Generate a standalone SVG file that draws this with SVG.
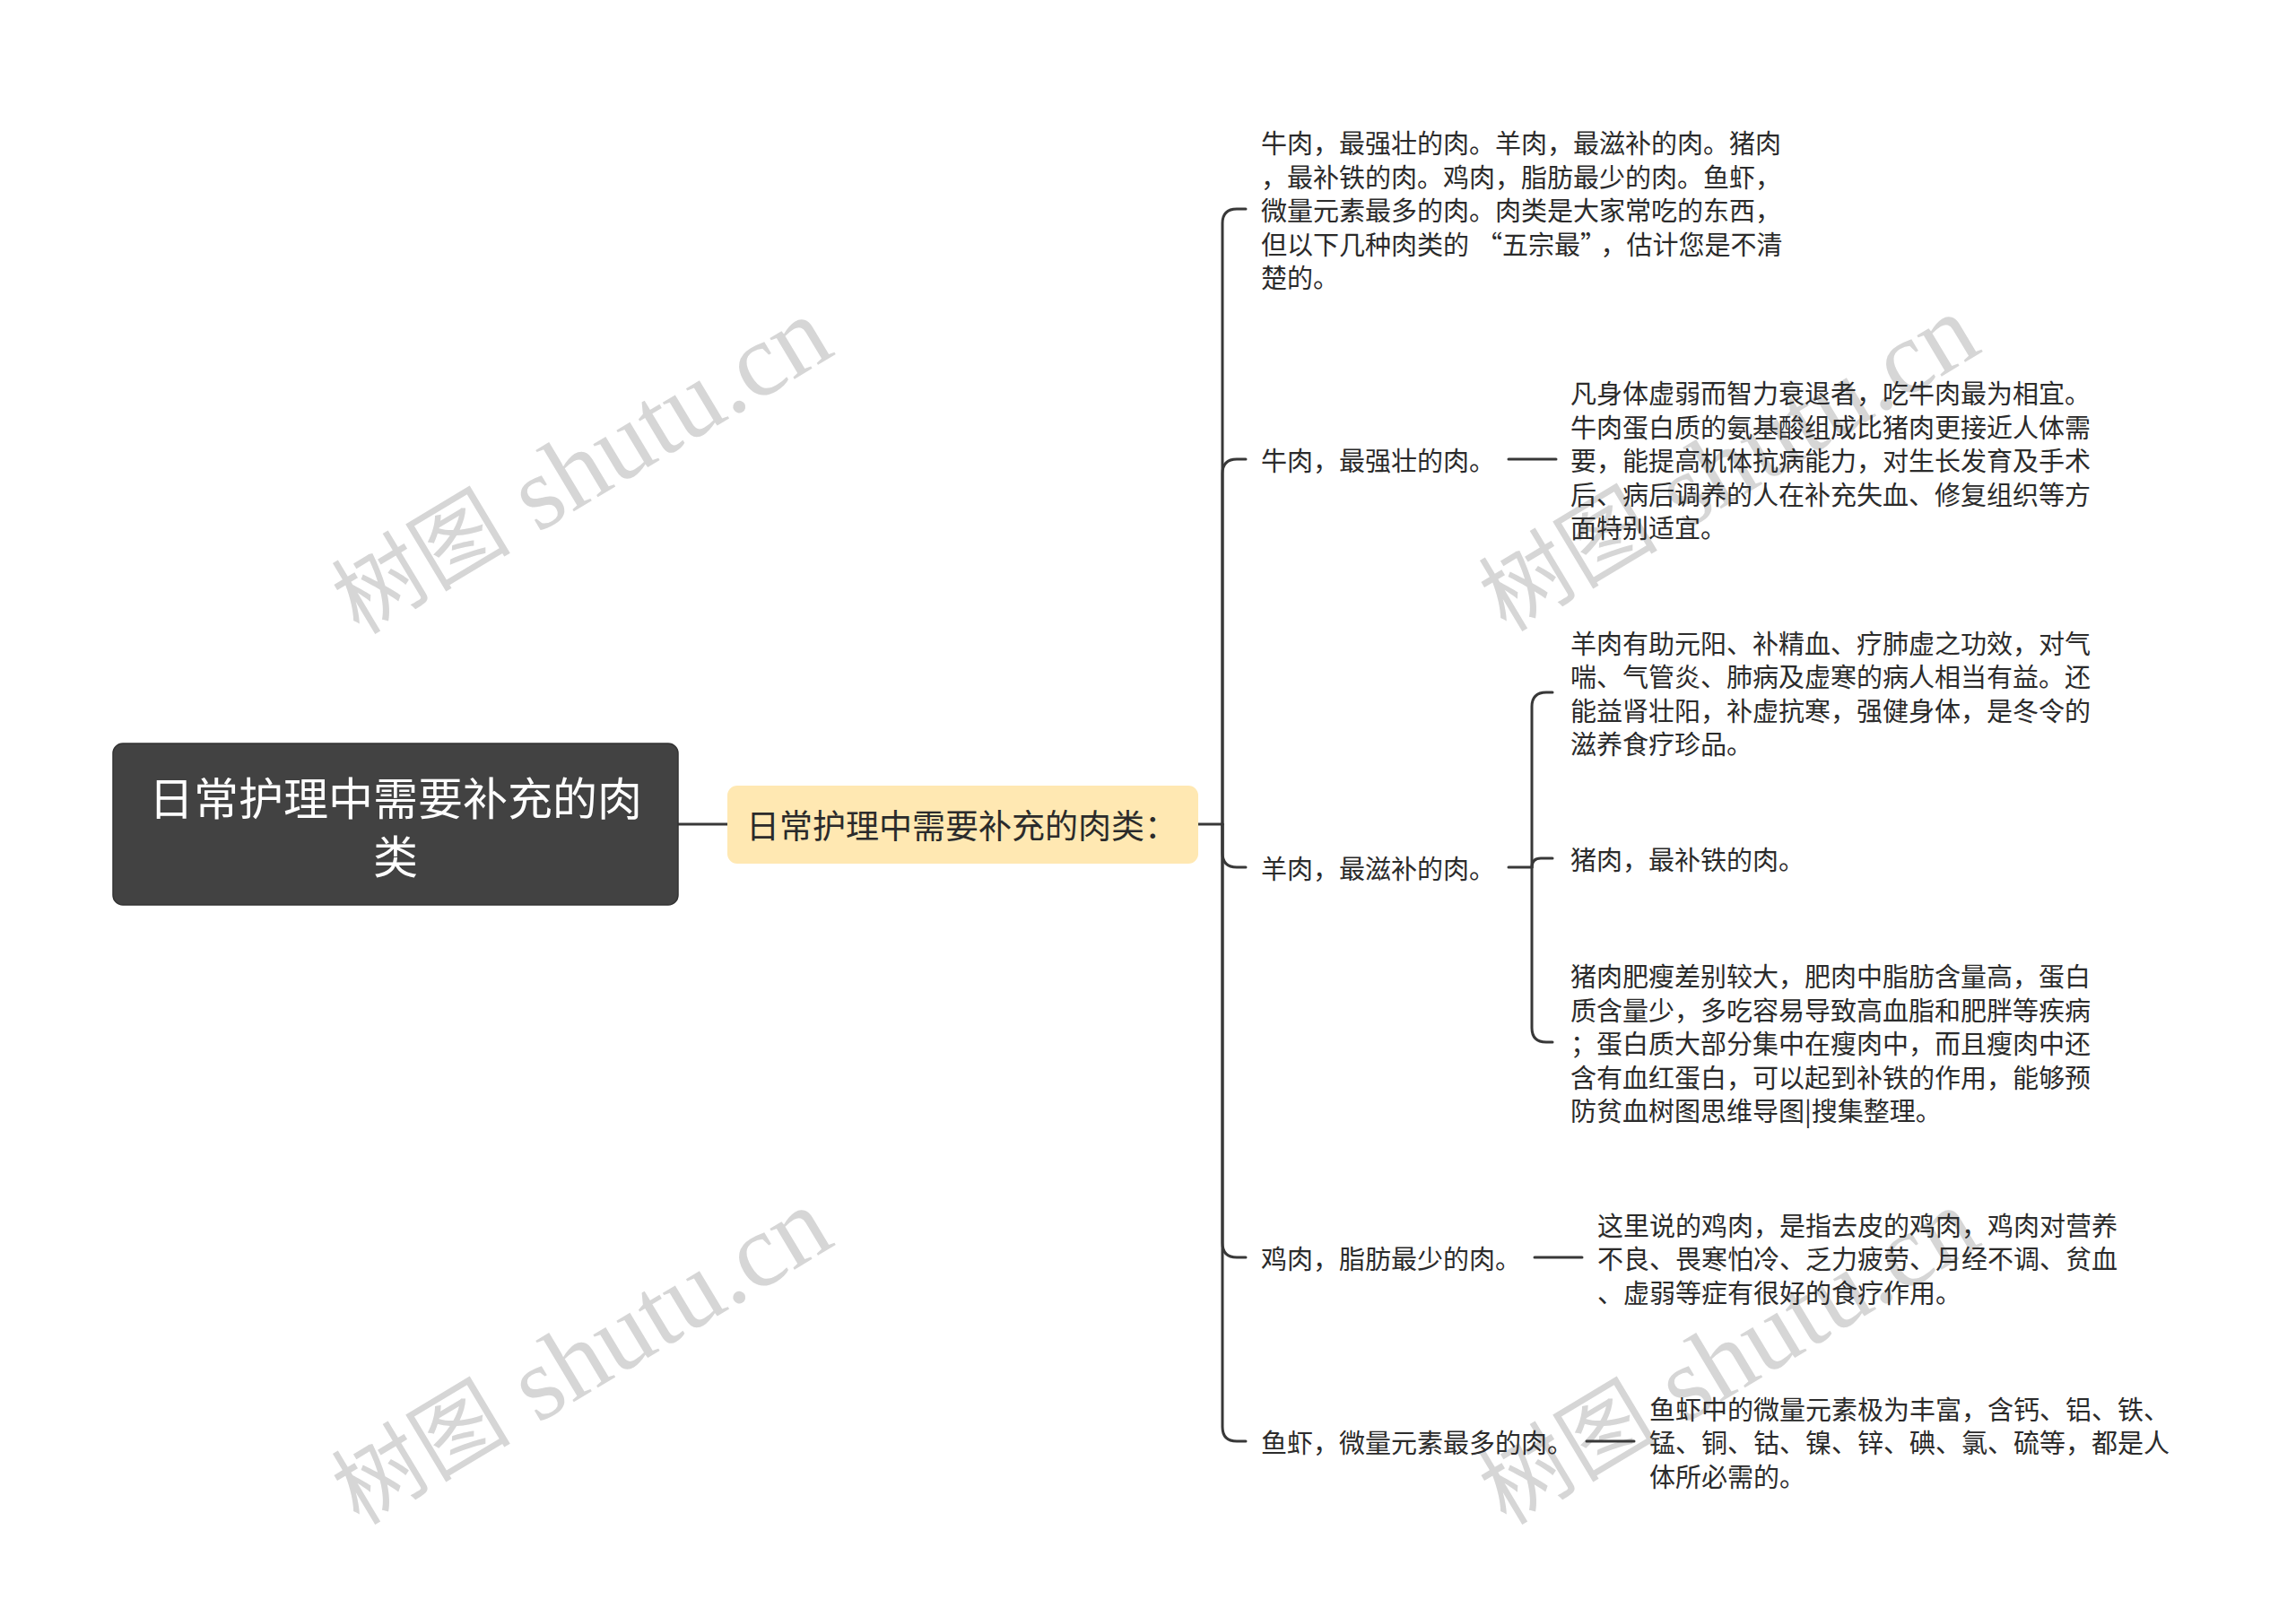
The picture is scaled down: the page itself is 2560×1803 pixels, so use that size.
<svg xmlns="http://www.w3.org/2000/svg" width="2560" height="1803" viewBox="0 0 2560 1803">
<style>
.wm{font-family:"Liberation Serif","Noto Sans CJK SC",serif;font-size:116px;fill:#d6d6d6;text-anchor:middle;dominant-baseline:central}
.wm .cj{font-size:100px}
.t{font-family:"Noto Sans CJK SC","Noto Sans",sans-serif;font-size:29px;fill:#2b2b2b;dominant-baseline:central}
.root{font-family:"Noto Sans CJK SC","Noto Sans",sans-serif;font-size:50px;fill:#ffffff;text-anchor:middle;dominant-baseline:central}
.sub{font-family:"Noto Sans CJK SC","Noto Sans",sans-serif;font-size:37px;fill:#2b2b2b;dominant-baseline:central}
.c{fill:none;stroke:#383838;stroke-width:3;stroke-linecap:round}
</style>
<rect width="2560" height="1803" fill="#ffffff"/>
<g id="watermarks">
<text class="wm" transform="translate(648,520) rotate(-31)"><tspan class="cj">树图</tspan> shutu.cn</text>
<text class="wm" transform="translate(1927,517) rotate(-31)"><tspan class="cj">树图</tspan> shutu.cn</text>
<text class="wm" transform="translate(648,1513) rotate(-31)"><tspan class="cj">树图</tspan> shutu.cn</text>
<text class="wm" transform="translate(1927,1513) rotate(-31)"><tspan class="cj">树图</tspan> shutu.cn</text>
</g>
<g id="connectors">
<path class="c" d="M756,919 H811"/>
<path class="c" d="M1336,919 H1363"/>
<path class="c" d="M1363,919 V249 Q1363,233 1379,233 H1389"/>
<path class="c" d="M1363,919 V528 Q1363,512 1379,512 H1389"/>
<path class="c" d="M1363,919 V951 Q1363,967 1379,967 H1389"/>
<path class="c" d="M1363,919 V1386 Q1363,1402 1379,1402 H1389"/>
<path class="c" d="M1363,919 V1591 Q1363,1607 1379,1607 H1389"/>
<path class="c" d="M1682,512 H1735"/>
<path class="c" d="M1682,967 H1708"/>
<path class="c" d="M1708,967 V788 Q1708,772 1724,772 H1731"/>
<path class="c" d="M1708,967 Q1708,957 1718,957 H1731"/>
<path class="c" d="M1708,967 V1146 Q1708,1162 1724,1162 H1731"/>
<path class="c" d="M1711,1402 H1764"/>
<path class="c" d="M1769,1607 H1822"/>
</g>
<g id="root">
<rect x="126" y="829" width="630" height="180" rx="11" fill="#424242" stroke="#333333" stroke-width="1.5"/>
<text class="root" x="441" y="887">日常护理中需要补充的肉</text>
<text class="root" x="441" y="952">类</text>
</g>
<g id="sub">
<rect x="811" y="876" width="525" height="87" rx="11" fill="#ffe8b2"/>
<text class="sub" x="832" y="919">日常护理中需要补充的肉类：</text>
</g>
<g id="intro">
<text class="t" x="1406" y="158">牛肉，最强壮的肉。羊肉，最滋补的肉。猪肉</text>
<text class="t" x="1406" y="195.5">，最补铁的肉。鸡肉，脂肪最少的肉。鱼虾，</text>
<text class="t" x="1406" y="233">微量元素最多的肉。肉类是大家常吃的东西，</text>
<text class="t" x="1406" y="270.5">但以下几种肉类的<tspan dx="8">“</tspan>五宗最”<tspan dx="8">，</tspan>估计您是不清</text>
<text class="t" x="1406" y="308">楚的。</text>
</g>
<g id="beef">
<text class="t" x="1406" y="512">牛肉，最强壮的肉。</text>
</g>
<g id="beef-detail">
<text class="t" x="1751" y="437">凡身体虚弱而智力衰退者，吃牛肉最为相宜。</text>
<text class="t" x="1751" y="474.5">牛肉蛋白质的氨基酸组成比猪肉更接近人体需</text>
<text class="t" x="1751" y="512">要，能提高机体抗病能力，对生长发育及手术</text>
<text class="t" x="1751" y="549.5">后、病后调养的人在补充失血、修复组织等方</text>
<text class="t" x="1751" y="587">面特别适宜。</text>
</g>
<g id="mutton">
<text class="t" x="1406" y="967">羊肉，最滋补的肉。</text>
</g>
<g id="mutton-detail">
<text class="t" x="1751" y="715.5">羊肉有助元阳、补精血、疗肺虚之功效，对气</text>
<text class="t" x="1751" y="753">喘、气管炎、肺病及虚寒的病人相当有益。还</text>
<text class="t" x="1751" y="790.5">能益肾壮阳，补虚抗寒，强健身体，是冬令的</text>
<text class="t" x="1751" y="828">滋养食疗珍品。</text>
</g>
<g id="pork">
<text class="t" x="1751" y="957">猪肉，最补铁的肉。</text>
</g>
<g id="pork-detail">
<text class="t" x="1751" y="1087">猪肉肥瘦差别较大，肥肉中脂肪含量高，蛋白</text>
<text class="t" x="1751" y="1124.5">质含量少，多吃容易导致高血脂和肥胖等疾病</text>
<text class="t" x="1751" y="1162">；蛋白质大部分集中在瘦肉中，而且瘦肉中还</text>
<text class="t" x="1751" y="1199.5">含有血红蛋白，可以起到补铁的作用，能够预</text>
<text class="t" x="1751" y="1237">防贫血树图思维导图|搜集整理。</text>
</g>
<g id="chicken">
<text class="t" x="1406" y="1402">鸡肉，脂肪最少的肉。</text>
</g>
<g id="chicken-detail">
<text class="t" x="1781" y="1364.5">这里说的鸡肉，是指去皮的鸡肉，鸡肉对营养</text>
<text class="t" x="1781" y="1402">不良、畏寒怕冷、乏力疲劳、月经不调、贫血</text>
<text class="t" x="1781" y="1439.5">、虚弱等症有很好的食疗作用。</text>
</g>
<g id="fish">
<text class="t" x="1406" y="1607">鱼虾，微量元素最多的肉。</text>
</g>
<g id="fish-detail">
<text class="t" x="1839" y="1569.5">鱼虾中的微量元素极为丰富，含钙、铝、铁、</text>
<text class="t" x="1839" y="1607">锰、铜、钴、镍、锌、碘、氯、硫等，都是人</text>
<text class="t" x="1839" y="1644.5">体所必需的。</text>
</g>
</svg>
